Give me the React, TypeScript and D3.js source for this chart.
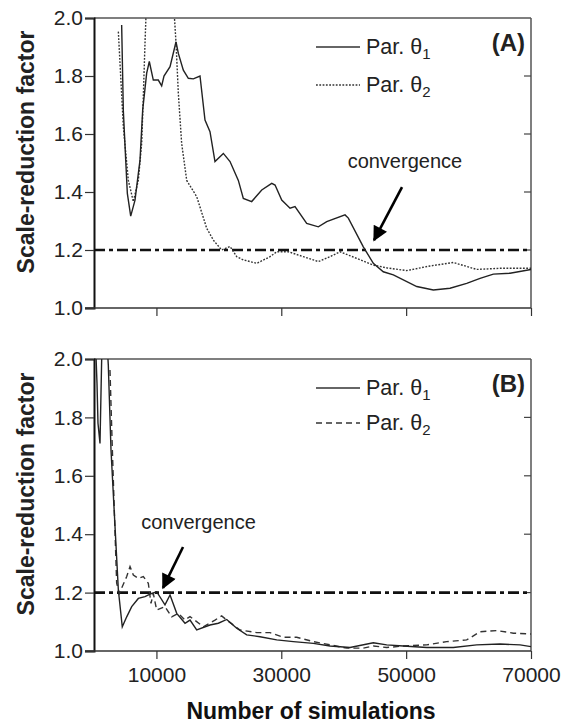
import * as d3 from 'd3';
import { useEffect, useRef } from 'react';

// [simulations, scale-reduction factor]
const aTheta1: [number, number][] = [
  [4430, 1.976], [4700, 1.68], [5080, 1.51], [5340, 1.395], [5880, 1.317], [6570, 1.372], [7370, 1.51],
  [7800, 1.683], [8440, 1.81], [8860, 1.85], [9500, 1.786], [10300, 1.786], [10840, 1.766], [11210, 1.8],
  [12180, 1.832], [13140, 1.918], [13510, 1.878], [14310, 1.82], [15110, 1.792], [15910, 1.79], [16980, 1.8],
  [17780, 1.648], [18580, 1.608], [19380, 1.505], [20720, 1.533], [21790, 1.505], [23120, 1.44], [23920, 1.378],
  [25260, 1.367], [26870, 1.407], [28470, 1.43], [29000, 1.424], [30070, 1.372], [31400, 1.344], [32200, 1.35],
  [34070, 1.292], [35940, 1.28], [37280, 1.298], [40210, 1.321], [40740, 1.31], [43140, 1.211], [44740, 1.154],
  [46340, 1.125], [47950, 1.114], [51700, 1.074], [54360, 1.062], [57030, 1.068], [59700, 1.085], [61840, 1.102],
  [63970, 1.117], [66640, 1.12], [70000, 1.133],
];
const aTheta2: [number, number][] = [
  [3900, 1.953], [4700, 1.625], [5500, 1.44], [6300, 1.367], [7100, 1.44], [7640, 1.568], [7900, 1.73],
  [8170, 1.913], [8400, 2.05], [12750, 2.05], [13140, 1.913], [13510, 1.74], [14040, 1.568], [14850, 1.44],
  [16450, 1.384], [18050, 1.275], [19120, 1.234], [20450, 1.2], [21790, 1.212], [22860, 1.177], [23920, 1.166],
  [26070, 1.154], [28200, 1.177], [29270, 1.194], [31130, 1.194], [33530, 1.177], [35940, 1.16], [37810, 1.177],
  [39410, 1.194], [42080, 1.171], [44740, 1.148], [47000, 1.138], [50090, 1.129], [53830, 1.145], [57560, 1.157],
  [61300, 1.133], [65040, 1.137], [70000, 1.137],
];
const bTheta1: [number, number][] = [
  [250, 2.05], [480, 1.917], [640, 1.78], [960, 1.711], [1230, 2.0], [1350, 2.05], [2100, 2.05], [2290, 1.98],
  [2720, 1.69], [3900, 1.209], [4530, 1.083], [5240, 1.117], [6040, 1.152], [7100, 1.18], [8170, 1.186],
  [9240, 1.197], [10040, 1.203], [11370, 1.158], [12180, 1.192], [13250, 1.129], [14580, 1.095], [15380, 1.106],
  [16450, 1.072], [18580, 1.089], [19920, 1.095], [21260, 1.108], [22860, 1.078], [24460, 1.055], [26590, 1.049],
  [29270, 1.038], [31930, 1.032], [35140, 1.026], [37810, 1.017], [41010, 1.012], [44740, 1.028], [46880, 1.021],
  [49540, 1.017], [53300, 1.012], [57560, 1.012], [61300, 1.021], [65040, 1.024], [68250, 1.021], [70000, 1.015],
];
const bTheta2: [number, number][] = [
  [2560, 1.962], [2940, 1.69], [3630, 1.232], [4060, 1.197], [5240, 1.255], [5770, 1.289], [6300, 1.26],
  [7100, 1.249], [7900, 1.255], [8700, 1.232], [9130, 1.163], [9500, 1.197], [10040, 1.14], [11370, 1.152],
  [12450, 1.117], [13510, 1.129], [14580, 1.106], [15380, 1.118], [17510, 1.083], [19380, 1.106], [20450, 1.12],
  [21260, 1.106], [23390, 1.072], [26070, 1.063], [28200, 1.063], [30330, 1.047], [32470, 1.047], [35140, 1.032],
  [37810, 1.021], [40480, 1.01], [43140, 1.01], [44740, 1.017], [46880, 1.012], [49540, 1.017], [53300, 1.021],
  [56490, 1.032], [59700, 1.038], [61840, 1.066], [64510, 1.07], [67180, 1.061], [70000, 1.058],
];

const xTicks = [10000, 30000, 50000, 70000];
const yTicks = [1.0, 1.2, 1.4, 1.6, 1.8, 2.0];
const threshold = 1.2;
const panelLabels = ['(A)', '(B)'];
const legendNames = ['Par. \u03b8', 'Par. \u03b8'];
// arrow: [labelX, labelY, fromX, fromY, toX, toY] in data units
const arrowA = [49800, 1.483, 49340, 1.417, 44860, 1.234];
const arrowB = [16740, 1.418, 14260, 1.356, 11050, 1.216];

const FONT = '"Liberation Sans", Arial, sans-serif';

export default function App() {
  const ref = useRef<SVGSVGElement>(null);

  useEffect(() => {
    document.body.style.margin = '0';
    const svg = d3.select(ref.current);
    svg.selectAll('*').remove();

    const width = 568, height = 725;
    const left = 94, right = 531;
    const panels = [
      { top: 18, bottom: 308, s1: aTheta1, s2: aTheta2, dash: '1.8,1.5', arrow: arrowA, label: panelLabels[0], xLabels: false, gap: 38 },
      { top: 359, bottom: 651, s1: bTheta1, s2: bTheta2, dash: '6,4', arrow: arrowB, label: panelLabels[1], xLabels: true, gap: 35 },
    ];

    const x = d3.scaleLinear().domain([0, 70000]).range([left, right]);

    const defs = svg.append('defs');
    defs.append('marker')
      .attr('id', 'arrowhead').attr('viewBox', '0 0 10 10').attr('refX', 9).attr('refY', 5)
      .attr('markerWidth', 18).attr('markerHeight', 15).attr('markerUnits', 'userSpaceOnUse')
      .attr('orient', 'auto')
      .append('path').attr('d', 'M0,0 L10,5 L0,10 Z').attr('fill', '#000');

    panels.forEach((p, i) => {
      const y = d3.scaleLinear().domain([1, 2]).range([p.bottom, p.top]);
      const g = svg.append('g');
      const clipId = `clip${i}`;
      defs.append('clipPath').attr('id', clipId)
        .append('rect').attr('x', left).attr('y', p.top).attr('width', right - left).attr('height', p.bottom - p.top);

      // frame
      g.append('line').attr('x1', left).attr('x2', right).attr('y1', p.top).attr('y2', p.top)
        .attr('stroke', '#555').attr('stroke-width', 1.5);
      g.append('line').attr('x1', right).attr('x2', right).attr('y1', p.top).attr('y2', p.bottom)
        .attr('stroke', '#555').attr('stroke-width', 1.5);

      // right inward ticks
      g.selectAll('.rt').data(yTicks.slice(1, -1)).join('line')
        .attr('x1', right - 7).attr('x2', right).attr('y1', (d) => y(d)).attr('y2', (d) => y(d))
        .attr('stroke', '#444').attr('stroke-width', 1.2);

      const yAxis = g.append('g').attr('transform', `translate(${left},0)`)
        .call(d3.axisLeft(y).tickValues(yTicks).tickFormat(d3.format('.1f')).tickSize(9).tickPadding(2));
      yAxis.select('.domain').attr('stroke', '#111').attr('stroke-width', 2);
      yAxis.selectAll('.tick line').attr('stroke', '#333').attr('stroke-width', 1.2);
      yAxis.selectAll('text').attr('font-family', FONT).attr('font-size', 21).attr('fill', '#222');

      const xAxis = g.append('g').attr('transform', `translate(0,${p.bottom})`)
        .call(d3.axisBottom(x).tickValues(xTicks).tickSize(8).tickSizeOuter(0).tickPadding(8)
          .tickFormat((d) => (p.xLabels ? String(d) : '')));
      xAxis.select('.domain').attr('stroke', '#333').attr('stroke-width', 1.6).attr('d', `M${left - 9},0H${right}`);
      xAxis.selectAll('.tick line').attr('stroke', '#333').attr('stroke-width', 1.2);
      xAxis.selectAll('text').attr('font-family', FONT).attr('font-size', 21).attr('fill', '#222');

      // threshold
      g.append('line').attr('x1', left).attr('x2', right).attr('y1', y(threshold)).attr('y2', y(threshold))
        .attr('stroke', '#111').attr('stroke-width', 2.6).attr('stroke-dasharray', '11,4,4,4');

      const line = d3.line<[number, number]>().x((d) => x(d[0])).y((d) => y(d[1]));
      const clipped = g.append('g').attr('clip-path', `url(#${clipId})`);
      clipped.append('path').datum(p.s2).attr('d', line).attr('fill', 'none')
        .attr('stroke', '#333').attr('stroke-width', 1.4).attr('stroke-dasharray', p.dash);
      clipped.append('path').datum(p.s1).attr('d', line).attr('fill', 'none')
        .attr('stroke', '#222').attr('stroke-width', 1.4);

      // y title
      g.append('text')
        .attr('transform', `translate(34,${(p.top + p.bottom) / 2 - 11}) rotate(-90)`)
        .attr('text-anchor', 'middle').attr('font-family', FONT).attr('font-weight', 'bold')
        .attr('font-size', 23).attr('fill', '#222').text('Scale-reduction factor');

      // legend
      [0, 1].forEach((k) => {
        const ly = p.top + 29 + k * p.gap;
        g.append('line').attr('x1', 316).attr('x2', 360).attr('y1', ly).attr('y2', ly)
          .attr('stroke', '#333').attr('stroke-width', 1.3)
          .attr('stroke-dasharray', k === 0 ? null : p.dash);
        const t = g.append('text').attr('x', 366).attr('y', ly + 7).attr('font-family', FONT)
          .attr('font-size', 21.5).attr('fill', '#222').text(legendNames[k]);
        t.append('tspan').attr('font-size', 15).attr('dy', 5).text(String(k + 1));
      });

      g.append('text').attr('x', 525).attr('y', p.top + 33).attr('text-anchor', 'end')
        .attr('font-family', FONT).attr('font-weight', 'bold').attr('font-size', 24).attr('fill', '#222')
        .text(p.label);

      // annotation
      const [lx, lyv, fx, fy, tx, ty] = p.arrow;
      g.append('text').attr('x', x(lx)).attr('y', y(lyv)).attr('text-anchor', 'middle')
        .attr('font-family', FONT).attr('font-size', 20).attr('fill', '#222').text('convergence');
      g.append('line').attr('x1', x(fx)).attr('y1', y(fy)).attr('x2', x(tx)).attr('y2', y(ty))
        .attr('stroke', '#000').attr('stroke-width', 2.6).attr('marker-end', 'url(#arrowhead)');
    });

    svg.append('text').attr('x', 311).attr('y', 719).attr('text-anchor', 'middle')
      .attr('font-family', FONT).attr('font-weight', 'bold').attr('font-size', 23).attr('fill', '#111')
      .text('Number of simulations');

    svg.attr('width', width).attr('height', height);
  }, []);

  return <svg ref={ref} width={568} height={725} style={{ display: 'block', background: '#fff' }} />;
}
